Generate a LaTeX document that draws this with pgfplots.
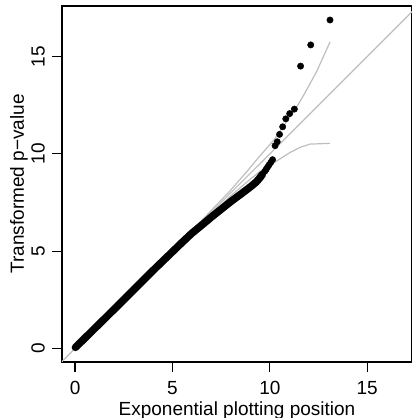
\documentclass[border=0pt]{standalone}
\usepackage{fontspec}
\setmainfont{Liberation Sans}
\usepackage{pgfplots}
\pgfplotsset{compat=1.18}
\definecolor{rgray}{RGB}{190,190,190}
\begin{document}
\fontsize{19}{22}\selectfont
\begin{tikzpicture}
\begin{axis}[
 scale only axis, width=350pt, height=356pt,
 xmin=-0.67, xmax=17.3, ymin=-0.70, ymax=17.6,
 axis line style={line width=1.1pt, black},
 xtick={0,5,10,15}, ytick={0,5,10,15},
 tick align=outside, major tick length=10pt,
 every tick/.style={black, line width=1.1pt},
 xtick pos=bottom, ytick pos=left,
 xticklabel style={anchor=north, inner sep=0pt},
 xticklabel shift=9pt,
 yticklabel style={rotate=90, anchor=south, inner sep=0pt},
 yticklabel shift=7pt,
 /pgf/number format/assume math mode=true,
 xlabel={Exponential plotting position},
 ylabel={Transformed p−value},
 every axis x label/.style={at={(axis description cs:0.5,-0.150)}, anchor=base},
 every axis y label/.style={at={(axis description cs:-0.1086,0.5)}, rotate=90, anchor=base},
 clip=true,
]
% diagonal
\addplot[rgray, line width=1.2pt] coordinates {(-1,-1) (18,18)};
% upper band
\addplot[rgray, line width=1.2pt] coordinates {
(0,0) (5,5.02) (6,6.05) (7,7.1) (7.96,8.1) (8.9,9.18) (9.24,9.6) (10.28,10.8)
(10.6,11.3) (11.29,12.25) (11.74,13.02) (12.4,14.22) (13.09,15.75)};
% lower band
\addplot[rgray, line width=1.2pt] coordinates {
(0,0) (5,4.98) (6,5.95) (7,6.9) (8,7.85) (9,8.7) (9.5,9.1) (10.3,9.6)
(11.04,10.07) (11.55,10.33) (12.06,10.5) (13.09,10.54)};
% dense body of points
\addplot[black, line width=7.5pt, line cap=round, line join=round] coordinates {
(0.02,0.05) (2,2) (4,4) (5.5,5.45) (6,5.92) (6.5,6.33) (7,6.75) (7.5,7.15)
(8,7.55) (8.5,7.92) (9,8.3) (9.3,8.55) (9.5,8.78) (9.62,8.95)};
% individual points
\addplot[only marks, mark=*, mark size=3.2pt, black] coordinates {
(9.74,9.1) (9.81,9.2) (9.88,9.31) (9.96,9.43) (10.05,9.56) (10.14,9.70)
(10.27,10.42) (10.38,10.62) (10.5,11.0) (10.66,11.39) (10.82,11.8)
(11.02,12.07) (11.26,12.3) (11.58,14.51) (12.1,15.6) (13.09,16.88)};
\end{axis}
\pgfresetboundingbox
\useasboundingbox (-62pt,-56pt) rectangle (349.4pt,362pt);
\end{tikzpicture}
\end{document}
